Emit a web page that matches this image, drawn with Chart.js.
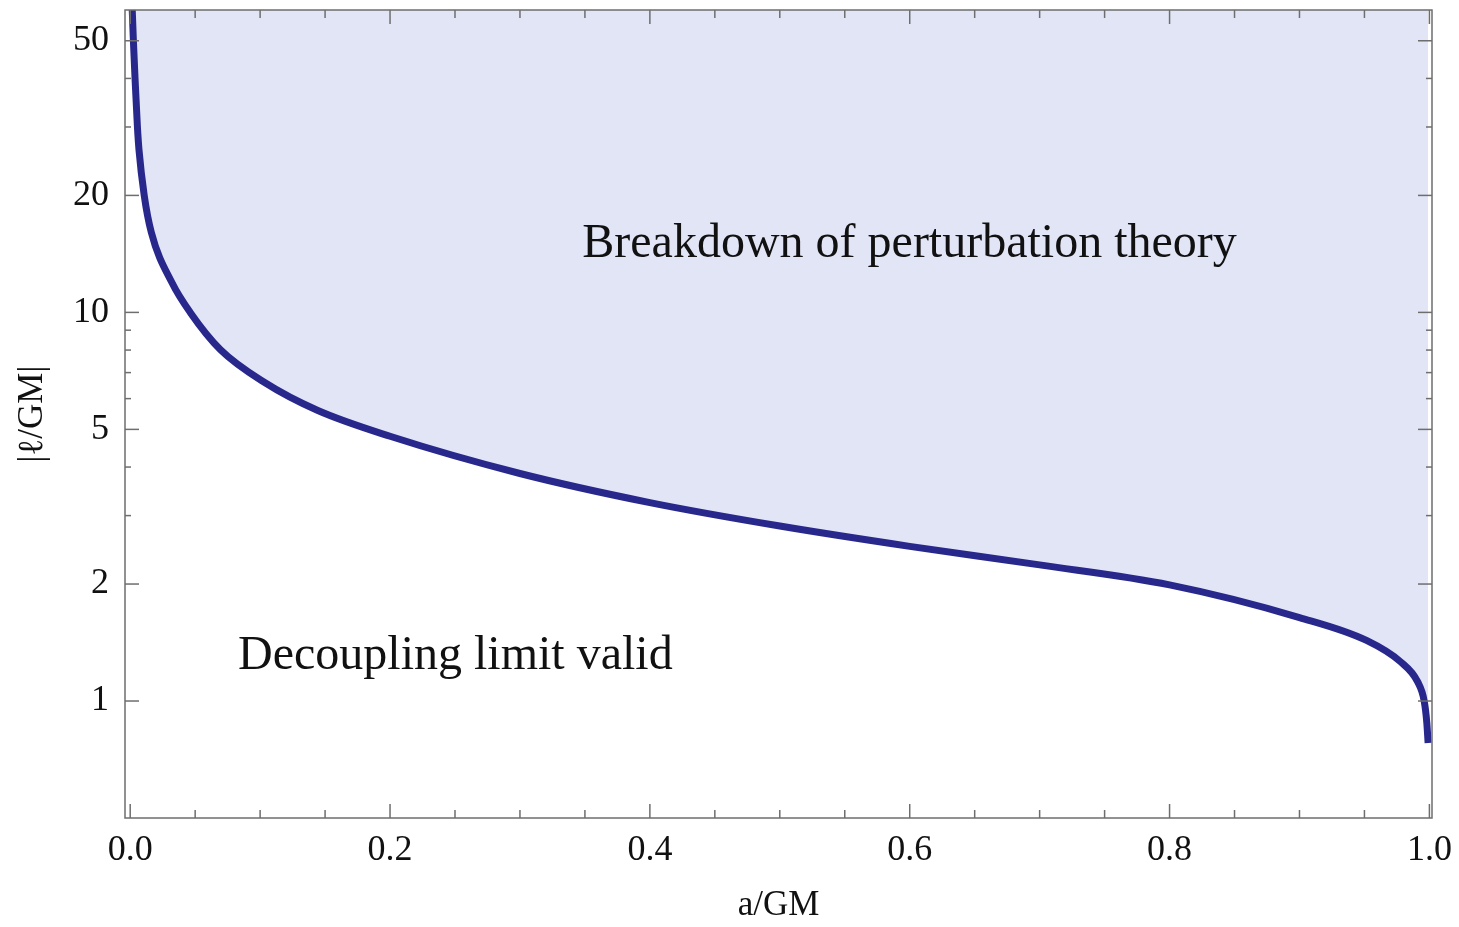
<!DOCTYPE html>
<html>
<head>
<meta charset="utf-8">
<title>Decoupling limit</title>
<script src="https://cdn.jsdelivr.net/npm/chart.js@4/dist/chart.umd.min.js"></script>
<style>
  body { margin: 0; background: #fff; }
  #wrap { width: 1459px; height: 927px; }
</style>
</head>
<body>
<div id="wrap"><canvas id="myChart"></canvas></div>
<script>
// |l/GM| limit vs spin a/GM, log y axis
var spin = [0.0007, 0.00246, 0.0037, 0.00554, 0.00677, 0.0108, 0.0162, 0.0323, 0.0462, 0.0693,
            0.1032, 0.144, 0.2, 0.3, 0.4, 0.5, 0.6, 0.7, 0.8, 0.9,
            0.952, 0.978, 0.991, 0.996, 0.998, 0.999];
var ellLimit = [72, 50, 40.2, 30.1, 26.2, 20, 16.1, 11.9, 10, 8.03,
                6.61, 5.6, 4.8, 3.85, 3.24, 2.82, 2.5, 2.24, 1.99, 1.64,
                1.43, 1.26, 1.12, 1.0, 0.88, 0.78];

var xMajor = [0, 0.2, 0.4, 0.6, 0.8, 1.0];
var xMinor = [0.05, 0.1, 0.15, 0.25, 0.3, 0.35, 0.45, 0.5, 0.55, 0.65, 0.7, 0.75, 0.85, 0.9, 0.95];
var yMajor = [1, 2, 5, 10, 20, 50];
var yMinor = [3, 4, 6, 7, 8, 9, 30, 40];

var notes = [
  { text: "Breakdown of perturbation theory", a: 0.348, ell: 15.0 },
  { text: "Decoupling limit valid", a: 0.083, ell: 1.3 }
];

var serif = '"Liberation Serif", "DejaVu Serif", serif';

var points = [];
for (var i = 0; i < spin.length; i++) {
  points.push({ x: spin[i], y: ellLimit[i] });
}

// frame, inward ticks (all four sides) and the two region labels
var frameTicks = {
  id: "frameTicks",
  afterDatasetsDraw: function(chart) {
    var ctx = chart.ctx;
    var area = chart.chartArea;
    var xs = chart.scales.x, ys = chart.scales.y;
    ctx.save();
    ctx.strokeStyle = "#6e6e6e";
    ctx.lineWidth = 1.5;
    ctx.strokeRect(area.left, area.top, area.right - area.left, area.bottom - area.top);

    function tick(x1, y1, x2, y2) {
      ctx.beginPath(); ctx.moveTo(x1, y1); ctx.lineTo(x2, y2); ctx.stroke();
    }
    xMajor.forEach(function(v) {
      var px = xs.getPixelForValue(v);
      tick(px, area.bottom, px, area.bottom - 14);
      tick(px, area.top, px, area.top + 14);
    });
    xMinor.forEach(function(v) {
      var px = xs.getPixelForValue(v);
      tick(px, area.bottom, px, area.bottom - 8);
      tick(px, area.top, px, area.top + 8);
    });
    yMajor.forEach(function(v) {
      var py = ys.getPixelForValue(v);
      tick(area.left, py, area.left + 14, py);
      tick(area.right, py, area.right - 14, py);
    });
    yMinor.forEach(function(v) {
      var py = ys.getPixelForValue(v);
      tick(area.left, py, area.left + 6, py);
      tick(area.right, py, area.right - 6, py);
    });

    ctx.fillStyle = "#111";
    ctx.font = "48px " + serif;
    ctx.textAlign = "left";
    ctx.textBaseline = "middle";
    notes.forEach(function(n) {
      ctx.fillText(n.text, xs.getPixelForValue(n.a), ys.getPixelForValue(n.ell));
    });
    ctx.restore();
  }
};

var chartData = {
  datasets: [
    {
      label: "limit",
      data: points,
      borderColor: "rgb(40, 40, 140)",
      backgroundColor: "rgb(226, 229, 246)",
      borderWidth: 7,
      borderCapStyle: "butt",
      pointRadius: 0,
      cubicInterpolationMode: "monotone",
      fill: "end"
    }
  ]
};

var options = {
  responsive: true,
  maintainAspectRatio: false,
  animation: false,
  layout: { padding: { left: 0, top: 10, right: 27, bottom: 0 } },
  plugins: {
    legend: { display: false },
    tooltip: { enabled: false }
  },
  scales: {
    x: {
      type: "linear",
      min: -0.004,
      max: 1.002,
      grid: { display: false, drawTicks: false },
      border: { display: false },
      afterBuildTicks: function(scale) {
        scale.ticks = xMajor.map(function(v) { return { value: v }; });
      },
      afterFit: function(scale) {
        scale.height = 109;
        scale.paddingLeft = 0;
        scale.paddingRight = 0;
      },
      ticks: {
        color: "#111",
        padding: 11,
        maxRotation: 0,
        font: { family: serif, size: 36 },
        callback: function(v) { return Number(v).toFixed(1); }
      },
      title: {
        display: true,
        text: "a/GM",
        color: "#111",
        padding: { top: 0, bottom: 0 },
        font: { family: serif, size: 35 }
      }
    },
    y: {
      type: "logarithmic",
      min: 0.5,
      max: 60,
      grid: { display: false, drawTicks: false },
      border: { display: false },
      afterBuildTicks: function(scale) {
        scale.ticks = yMajor.map(function(v) { return { value: v }; });
      },
      afterFit: function(scale) {
        scale.width = 125;
        scale.paddingTop = 0;
        scale.paddingBottom = 0;
      },
      ticks: {
        color: "#111",
        padding: 16,
        font: { family: serif, size: 36 },
        callback: function(v) { return String(v); }
      },
      title: {
        display: true,
        text: "|\u2113/GM|",
        color: "#111",
        padding: { top: 12, bottom: 0 },
        font: { family: serif, size: 35 }
      }
    }
  }
};

var ctx = document.getElementById("myChart");
var myChart = new Chart(ctx, {
  type: "line",
  data: chartData,
  options: options,
  plugins: [frameTicks]
});
</script>
</body>
</html>
